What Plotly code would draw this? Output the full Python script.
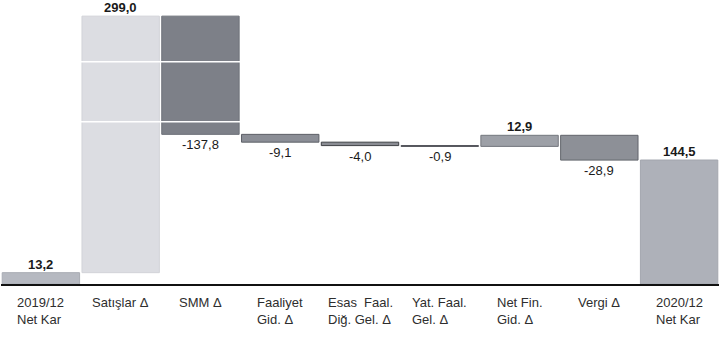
import numpy as np
import plotly.graph_objects as go

# Net profit bridge, 2019/12 -> 2020/12 (million TL)
categories = ["2019/12<br>Net Kar", "Satışlar Δ", "SMM Δ", "Faaliyet<br>Gid. Δ",
              "Esas  Faal.<br>Diğ. Gel. Δ", "Yat. Faal.<br>Gel. Δ", "Net Fin.<br>Gid. Δ",
              "Vergi Δ", "2020/12<br>Net Kar"]
start_value = 13.2
deltas = [299.0, -137.8, -9.1, -4.0, -0.9, 12.9, -28.9]
end_value = 144.5

bar_colors = ["#b6b9c1", "#dcdde2", "#7d8088", "#8b8e96", "#8a8c93",
              "#a4a6ad", "#9da0a7", "#8d9097", "#aeb1b9"]
edge_colors = ["#a9acb4", "#d2d3d8", "#6e7179", "#5e6168", "#3e4045",
               "#4a4c52", "#74777e", "#62656c", "#a3a6ae"]

FONT = "Liberation Sans, Arial, sans-serif"

# bases and heights of every bar of the bridge
running = start_value + np.concatenate([[0.0], np.cumsum(deltas)])
bases = [0.0] + list(running[:-1]) + [0.0]
heights = [start_value] + list(deltas) + [end_value]


def fmt(v):
    s = f"{v:.1f}".replace(".", ",")
    return f"<b>{s}</b>" if v > 0 else s


x_pos = list(range(len(categories)))

fig = go.Figure()
fig.add_trace(go.Bar(
    x=x_pos, y=heights, base=bases,
    marker=dict(color=bar_colors, line=dict(color=edge_colors, width=1)),
    width=0.97,
    hoverinfo="skip",
))

# value labels: above the bar end for gains/totals, below it for losses
for i, (b, h) in enumerate(zip(bases, heights)):
    end = b + h
    fig.add_annotation(x=i, y=end, xref="x", yref="y",
                       yanchor="bottom" if h > 0 else "top",
                       yshift=-1 if h > 0 else -1,
                       text=fmt(h), showarrow=False,
                       font=dict(family=FONT, size=13, color="#1a1a1a"))

# thin white rules crossing the two tall bars
for level in [259, 189]:
    fig.add_shape(type="line", xref="x", x0=0.5, x1=2.5, yref="y", y0=level, y1=level,
                  line=dict(color="white", width=1.5), layer="above")

for i, c in enumerate(categories):
    fig.add_annotation(x=i, y=0, xref="x", yref="paper", yanchor="top", yshift=-9,
                       xanchor="center", align="left", text=c, showarrow=False,
                       font=dict(family=FONT, size=13, color="#2e2e2e"))

fig.update_layout(
    width=719, height=342,
    margin=dict(l=1, r=0, t=0, b=58),
    paper_bgcolor="white", plot_bgcolor="white",
    showlegend=False,
    xaxis=dict(range=[-0.5, len(categories) - 0.5], showticklabels=False, showgrid=False,
               zeroline=False, showline=True, linecolor="#111111", linewidth=2,
               ticks=""),
    yaxis=dict(range=[0, 331], visible=False, showgrid=False, zeroline=False),
)

fig.write_html("out.html")
